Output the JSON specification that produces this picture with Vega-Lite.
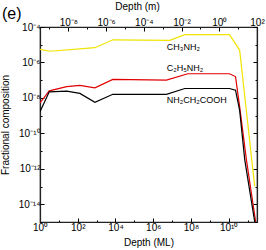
{
  "$schema": "https://vega.github.io/schema/vega-lite/v6.json",
  "width": 217,
  "height": 195,
  "autosize": "none",
  "padding": {"left": 40, "top": 27, "right": 9, "bottom": 28},
  "background": "white",
  "title": {"text": "(e)", "anchor": "start", "frame": "group", "fontSize": 16, "fontWeight": "normal", "font": "Liberation Sans", "color": "#000", "offset": 0, "dx": -38, "dy": 21},
  "datasets": {
    "lines": [
      {"s": "CH3NH2", "ml": 1, "v": 5.5e-6},
      {"s": "CH3NH2", "ml": 3.4, "v": 4.3e-6},
      {"s": "CH3NH2", "ml": 813, "v": 6.8e-6},
      {"s": "CH3NH2", "ml": 7244, "v": 1.9e-5},
      {"s": "CH3NH2", "ml": 7.6e6, "v": 1.78e-5},
      {"s": "CH3NH2", "ml": 4.7e7, "v": 3.7e-5},
      {"s": "CH3NH2", "ml": 1.1e10, "v": 3.7e-5},
      {"s": "CH3NH2", "ml": 3.8e10, "v": 5.0e-6},
      {"s": "CH3NH2", "ml": 2.4e11, "v": 1e-13},
      {"s": "C2H5NH2", "ml": 1, "v": 5.2e-9},
      {"s": "C2H5NH2", "ml": 3.1, "v": 2.5e-8},
      {"s": "C2H5NH2", "ml": 26, "v": 4.3e-8},
      {"s": "C2H5NH2", "ml": 130, "v": 5.1e-8},
      {"s": "C2H5NH2", "ml": 813, "v": 3.7e-8},
      {"s": "C2H5NH2", "ml": 7244, "v": 1.1e-7},
      {"s": "C2H5NH2", "ml": 5.0e6, "v": 1.0e-7},
      {"s": "C2H5NH2", "ml": 6.8e7, "v": 2.3e-7},
      {"s": "C2H5NH2", "ml": 1.1e10, "v": 2.3e-7},
      {"s": "C2H5NH2", "ml": 2.3e10, "v": 1.6e-7},
      {"s": "C2H5NH2", "ml": 3.8e10, "v": 3.2e-9},
      {"s": "C2H5NH2", "ml": 8.7e10, "v": 3.2e-12},
      {"s": "C2H5NH2", "ml": 2.7e11, "v": 1e-15},
      {"s": "NH2CH2COOH", "ml": 1, "v": 1.66e-9},
      {"s": "NH2CH2COOH", "ml": 3.1, "v": 2.2e-8},
      {"s": "NH2CH2COOH", "ml": 26, "v": 2.4e-8},
      {"s": "NH2CH2COOH", "ml": 130, "v": 1.8e-8},
      {"s": "NH2CH2COOH", "ml": 813, "v": 5.6e-9},
      {"s": "NH2CH2COOH", "ml": 7244, "v": 1.6e-8},
      {"s": "NH2CH2COOH", "ml": 5.0e6, "v": 1.6e-8},
      {"s": "NH2CH2COOH", "ml": 4.7e7, "v": 3.4e-8},
      {"s": "NH2CH2COOH", "ml": 1.1e10, "v": 3.4e-8},
      {"s": "NH2CH2COOH", "ml": 2.3e10, "v": 2.75e-8},
      {"s": "NH2CH2COOH", "ml": 3.8e10, "v": 2.0e-9},
      {"s": "NH2CH2COOH", "ml": 7.1e10, "v": 3.2e-12},
      {"s": "NH2CH2COOH", "ml": 2.4e11, "v": 1e-15}
    ],
    "labels": [
      {"t": "CH₃NH₂", "ml": 5.2e6, "v": 7.4e-6},
      {"t": "C₂H₅NH₂", "ml": 5.2e6, "v": 4.8e-7},
      {"t": "NH₂CH₂COOH", "ml": 5.2e6, "v": 7.6e-9}
    ]
  },
  "layer": [
    {
      "data": {"name": "lines"},
      "mark": {"type": "line", "strokeWidth": 1.2, "clip": true},
      "encoding": {
        "x": {"field": "ml", "type": "quantitative",
              "scale": {"type": "log", "domain": [1, 3.1623e11], "nice": false},
              "axis": {"orient": "bottom", "title": "Depth (ML)", "titlePadding": 3,
                       "values": [1, 10, 100, 1000, 1e4, 1e5, 1e6, 1e7, 1e8, 1e9, 1e10, 1e11],
                       "tickSize": {"condition": {"test": "round(log(datum.value)/LN10) % 2 == 0", "value": -4}, "value": -2},
                       "labelExpr": "['10⁰','','10²','','10⁴','','10⁶','','10⁸','','10¹⁰',''][round(log(datum.value)/LN10)]"}},
        "y": {"field": "v", "type": "quantitative",
              "scale": {"type": "log", "domain": [1e-15, 1e-4], "nice": false},
              "axis": {"orient": "left", "title": "Fractional composition", "titlePadding": 8,
                       "values": [1e-15, 1e-14, 1e-13, 1e-12, 1e-11, 1e-10, 1e-9, 1e-8, 1e-7, 1e-6, 1e-5, 1e-4],
                       "tickSize": {"condition": {"test": "round(log(datum.value)/LN10) % 2 == 0", "value": -4}, "value": -2},
                       "labelExpr": "['','10⁻¹⁴','','10⁻¹²','','10⁻¹⁰','','10⁻⁸','','10⁻⁶','','10⁻⁴'][round(log(datum.value)/LN10)+15]"}},
        "color": {"field": "s", "type": "nominal",
                  "scale": {"domain": ["CH3NH2", "C2H5NH2", "NH2CH2COOH"], "range": ["#f2e400", "#e00000", "#000000"]},
                  "legend": null}
      }
    },
    {
      "data": {"name": "lines"},
      "mark": {"type": "point", "opacity": 0},
      "encoding": {
        "x": {"field": "ml", "type": "quantitative",
              "scale": {"type": "log", "domain": [1, 3.1623e11], "nice": false},
              "axis": {"orient": "top", "title": "Depth (m)", "titleX": 97,
                       "values": [3.1623, 31.623, 316.23, 3162.3, 31623, 316230, 3162300, 31623000, 316230000, 3162300000, 31623000000, 316230000000],
                       "tickSize": {"condition": {"test": "round(log(datum.value)/LN10 - 9.5) % 2 == 0", "value": -4}, "value": -2},
                       "labelExpr": "['','10⁻⁸','','10⁻⁶','','10⁻⁴','','10⁻²','','10⁰','','10²'][round(log(datum.value)/LN10-9.5)+9]"}},
        "y": {"field": "v", "type": "quantitative",
              "scale": {"type": "log", "domain": [1e-15, 1e-4], "nice": false},
              "axis": {"orient": "right", "title": null, "labels": false,
                       "tickSize": {"condition": {"test": "round(log(datum.value)/LN10) % 2 == 0", "value": -4}, "value": -2},
                       "values": [1e-15, 1e-14, 1e-13, 1e-12, 1e-11, 1e-10, 1e-9, 1e-8, 1e-7, 1e-6, 1e-5, 1e-4]}}
      }
    },
    {
      "data": {"name": "labels"},
      "mark": {"type": "text", "align": "left", "baseline": "middle", "font": "Liberation Sans", "fontSize": 9, "color": "#000"},
      "encoding": {
        "x": {"field": "ml", "type": "quantitative", "axis": null},
        "y": {"field": "v", "type": "quantitative", "axis": null},
        "text": {"field": "t"}
      }
    }
  ],
  "resolve": {"axis": {"x": "independent", "y": "independent"}},
  "config": {
    "view": {"stroke": "#222", "strokeWidth": 1.2},
    "axis": {
      "domainColor": "#222", "domainWidth": 1.2, "tickColor": "#000",
      "grid": false, "labelOverlap": false, "labelFlush": false, "labelPadding": 4,
      "labelFont": "Liberation Sans", "labelFontSize": 10, "labelColor": "#000",
      "titleFont": "Liberation Sans", "titleFontSize": 10, "titleFontWeight": "normal", "titleColor": "#000"
    }
  }
}
